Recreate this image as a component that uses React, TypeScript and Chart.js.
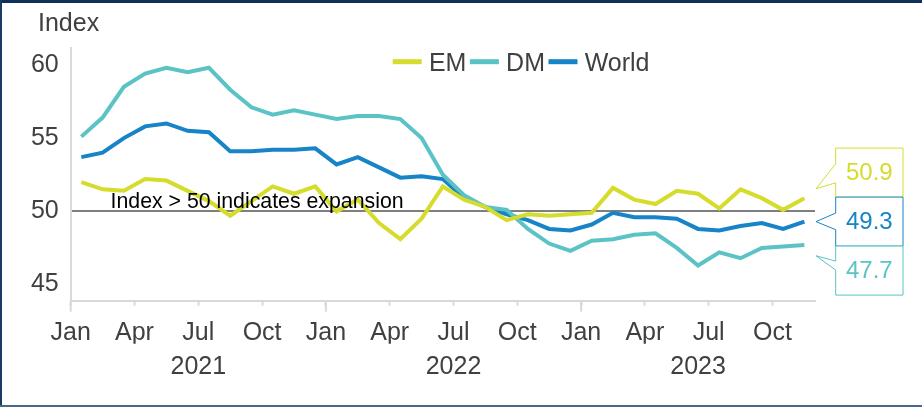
import React, { useEffect, useRef } from "react";
import { Chart, registerables } from "chart.js";

Chart.register(...registerables);

// ---- data ----
const months = [
  "2021-01", "2021-02", "2021-03", "2021-04", "2021-05", "2021-06", "2021-07", "2021-08", "2021-09", "2021-10", "2021-11", "2021-12",
  "2022-01", "2022-02", "2022-03", "2022-04", "2022-05", "2022-06", "2022-07", "2022-08", "2022-09", "2022-10", "2022-11", "2022-12",
  "2023-01", "2023-02", "2023-03", "2023-04", "2023-05", "2023-06", "2023-07", "2023-08", "2023-09", "2023-10", "2023-11",
];
const quarterLabels = ["Jan", "Apr", "Jul", "Oct"];
const years = ["2021", "2022", "2023"];
const yTicks = [45, 50, 55, 60];

const emValues = [52.0, 51.5, 51.4, 52.2, 52.1, 51.4, 50.7, 49.7, 50.7, 51.7, 51.2, 51.7, 50.0, 50.8, 49.2, 48.1, 49.5, 51.7, 50.8, 50.3, 49.4, 49.8, 49.7, 49.8, 49.9, 51.6, 50.8, 50.5, 51.4, 51.2, 50.2, 51.5, 50.9, 50.1, 50.9];
const dmValues = [55.1, 56.4, 58.5, 59.4, 59.8, 59.5, 59.8, 58.3, 57.1, 56.6, 56.9, 56.6, 56.3, 56.5, 56.5, 56.3, 55.0, 52.5, 51.1, 50.3, 50.1, 48.8, 47.8, 47.3, 48.0, 48.1, 48.4, 48.5, 47.5, 46.3, 47.2, 46.8, 47.5, 47.6, 47.7];
const worldValues = [53.7, 54.0, 55.0, 55.8, 56.0, 55.5, 55.4, 54.1, 54.1, 54.2, 54.2, 54.3, 53.2, 53.7, 53.0, 52.3, 52.4, 52.2, 50.9, 50.3, 49.8, 49.4, 48.8, 48.7, 49.1, 49.9, 49.6, 49.6, 49.5, 48.8, 48.7, 49.0, 49.2, 48.8, 49.3];

const seriesNames = ["EM", "DM", "World"];
const yTitle = "Index";
const thresholdValue = 50;
const annotationText = "Index > 50 indicates expansion";

// ---- styles ----
const FONT = "'Liberation Sans', Arial, Helvetica, sans-serif";
const TEXT = "#404040";
const COLORS = ["#d5dc2b", "#5bc3c5", "#1684c6"];
const AXIS_GRAY = "#d9d9d9";

const yearCenters = years.map((yr) => {
  const idx = months.map((m, i) => (m.startsWith(yr) ? i : -1)).filter((i) => i >= 0);
  return (idx[0] + idx[idx.length - 1] + 1) / 2;
});

export default function App() {
  const ref = useRef<HTMLCanvasElement>(null);

  useEffect(() => {
    const canvas = ref.current!;
    const series = [emValues, dmValues, worldValues].map((values, i) => ({
      name: seriesNames[i],
      values,
      color: COLORS[i],
    }));

    const overlay = {
      id: "overlay",
      afterDraw(chart: any) {
        const ctx = chart.ctx as CanvasRenderingContext2D;
        const xs = chart.scales.x;
        const ys = chart.scales.y;
        const area = chart.chartArea;
        ctx.save();

        // y title
        ctx.font = `25px ${FONT}`;
        ctx.fillStyle = TEXT;
        ctx.textAlign = "left";
        ctx.textBaseline = "alphabetic";
        ctx.fillText(yTitle, 38, 31);

        // legend
        let lx = 392.7;
        series.forEach((s) => {
          ctx.fillStyle = s.color;
          ctx.fillRect(lx, 59.2, 29, 5);
          lx += 29 + 7.2;
          ctx.fillStyle = TEXT;
          ctx.font = `25px ${FONT}`;
          ctx.fillText(s.name, lx, 71);
          lx += ctx.measureText(s.name).width + 3.5;
        });

        // annotation
        ctx.font = `21.3px ${FONT}`;
        ctx.fillStyle = "#000000";
        ctx.fillText(annotationText, xs.getPixelForValue(1.875), ys.getPixelForValue(thresholdValue) - 3);

        // longer ticks at year starts
        ctx.strokeStyle = AXIS_GRAY;
        ctx.lineWidth = 2;
        months.forEach((m, i) => {
          if (m.endsWith("-01")) {
            const px = xs.getPixelForValue(i);
            ctx.beginPath();
            ctx.moveTo(px, area.bottom);
            ctx.lineTo(px, area.bottom + 11);
            ctx.stroke();
          }
        });

        // callouts
        const sorted = [...series].sort((a, b) => b.values[b.values.length - 1] - a.values[a.values.length - 1]);
        const boxL = area.right + 20.7;
        const boxW = 67.3;
        const boxH = 49;
        const tipX = area.right + 1;
        const midY = ys.getPixelForValue(sorted[1].values[sorted[1].values.length - 1]);
        sorted.forEach((s, k) => {
          const top = midY - boxH * 1.5 + k * boxH;
          let tipY: number, b1: number, b2: number;
          if (k === 0) {
            tipY = top + 40.7; b1 = top + 15.7; b2 = top + 34.7;
          } else if (k === 1) {
            tipY = top + boxH / 2; b1 = top + 16; b2 = top + 32.6;
          } else {
            tipY = top + 9.7; b1 = top + 15; b2 = top + 24;
          }
          ctx.beginPath();
          ctx.moveTo(boxL, top);
          ctx.lineTo(boxL + boxW, top);
          ctx.lineTo(boxL + boxW, top + boxH);
          ctx.lineTo(boxL, top + boxH);
          ctx.lineTo(boxL, b2);
          ctx.lineTo(tipX, tipY);
          ctx.lineTo(boxL, b1);
          ctx.closePath();
          ctx.fillStyle = "#ffffff";
          ctx.fill();
          ctx.strokeStyle = s.color;
          ctx.lineWidth = 1;
          ctx.stroke();
          ctx.fillStyle = s.color;
          ctx.font = `24px ${FONT}`;
          ctx.textAlign = "center";
          ctx.textBaseline = "middle";
          ctx.fillText(s.values[s.values.length - 1].toFixed(1), boxL + boxW / 2, top + boxH / 2 + 1);
        });
        ctx.restore();
      },
    };

    const chart = new Chart(canvas, {
      type: "line",
      data: {
        datasets: series.map((s) => ({
          label: s.name,
          data: s.values.map((v, i) => ({ x: i + 0.5, y: v })),
          borderColor: s.color,
          backgroundColor: s.color,
          borderWidth: 4,
          pointRadius: 0,
          tension: 0,
          fill: false,
        })),
      },
      options: {
        responsive: false,
        animation: false,
        devicePixelRatio: 1,
        layout: { padding: { left: 0, right: 107, top: 48, bottom: 0 } },
        plugins: { legend: { display: false }, tooltip: { enabled: false }, title: { display: false } },
        scales: {
          x: {
            type: "linear",
            min: 0,
            max: months.length,
            afterBuildTicks: (s: any) => {
              s.ticks = months.map((m, i) => i).filter((i) => i % 3 === 0).map((v) => ({ value: v }));
            },
            ticks: {
              autoSkip: false,
              maxRotation: 0,
              padding: 12,
              color: TEXT,
              font: { size: 25, family: FONT },
              callback: (v: any) => quarterLabels[(Math.round(v) / 3) % 4],
            },
            grid: { drawOnChartArea: false, drawTicks: true, tickLength: 5, tickColor: AXIS_GRAY, tickWidth: 2 },
            border: { display: true, color: AXIS_GRAY, width: 2 },
            afterFit: (s: any) => { s.height = 43; },
          },
          x2: {
            type: "linear",
            position: "bottom",
            min: 0,
            max: months.length,
            afterBuildTicks: (s: any) => { s.ticks = yearCenters.map((v) => ({ value: v })); },
            ticks: {
              autoSkip: false,
              maxRotation: 0,
              padding: 0,
              color: TEXT,
              font: { size: 25, family: FONT },
              callback: (v: any) => {
                const k = yearCenters.findIndex((c) => Math.abs(c - v) < 1e-6);
                return k >= 0 ? years[k] : "";
              },
            },
            grid: { display: false },
            border: { display: false },
            afterFit: (s: any) => { s.height = 63.3; },
          },
          y: {
            min: 43.9,
            max: 61.15,
            afterBuildTicks: (s: any) => { s.ticks = yTicks.map((v) => ({ value: v })); },
            ticks: { padding: 12, color: TEXT, font: { size: 25, family: FONT } },
            grid: {
              drawTicks: false,
              lineWidth: 2,
              color: (c: any) => (c.tick && c.tick.value === thresholdValue ? "#7f7f7f" : "rgba(0,0,0,0)"),
            },
            border: { display: true, color: AXIS_GRAY, width: 2 },
            afterFit: (s: any) => { s.width = 70.7; },
          },
        },
      } as any,
      plugins: [overlay],
    });
    return () => chart.destroy();
  }, []);

  return (
    <div style={{ position: "fixed", left: 0, top: 0, width: 922, height: 407, background: "#ffffff" }}>
      <canvas ref={ref} width={922} height={407} style={{ position: "absolute", left: 0, top: 0, width: 922, height: 407 }} />
      <div style={{ position: "absolute", left: 0, top: 0, width: 922, height: 3, background: "#10305a" }} />
      <div style={{ position: "absolute", left: 0, top: 0, width: 2, height: 407, background: "#1c3b62" }} />
      <div style={{ position: "absolute", left: 0, top: 405, width: 922, height: 2, background: "#4a6688" }} />
    </div>
  );
}
